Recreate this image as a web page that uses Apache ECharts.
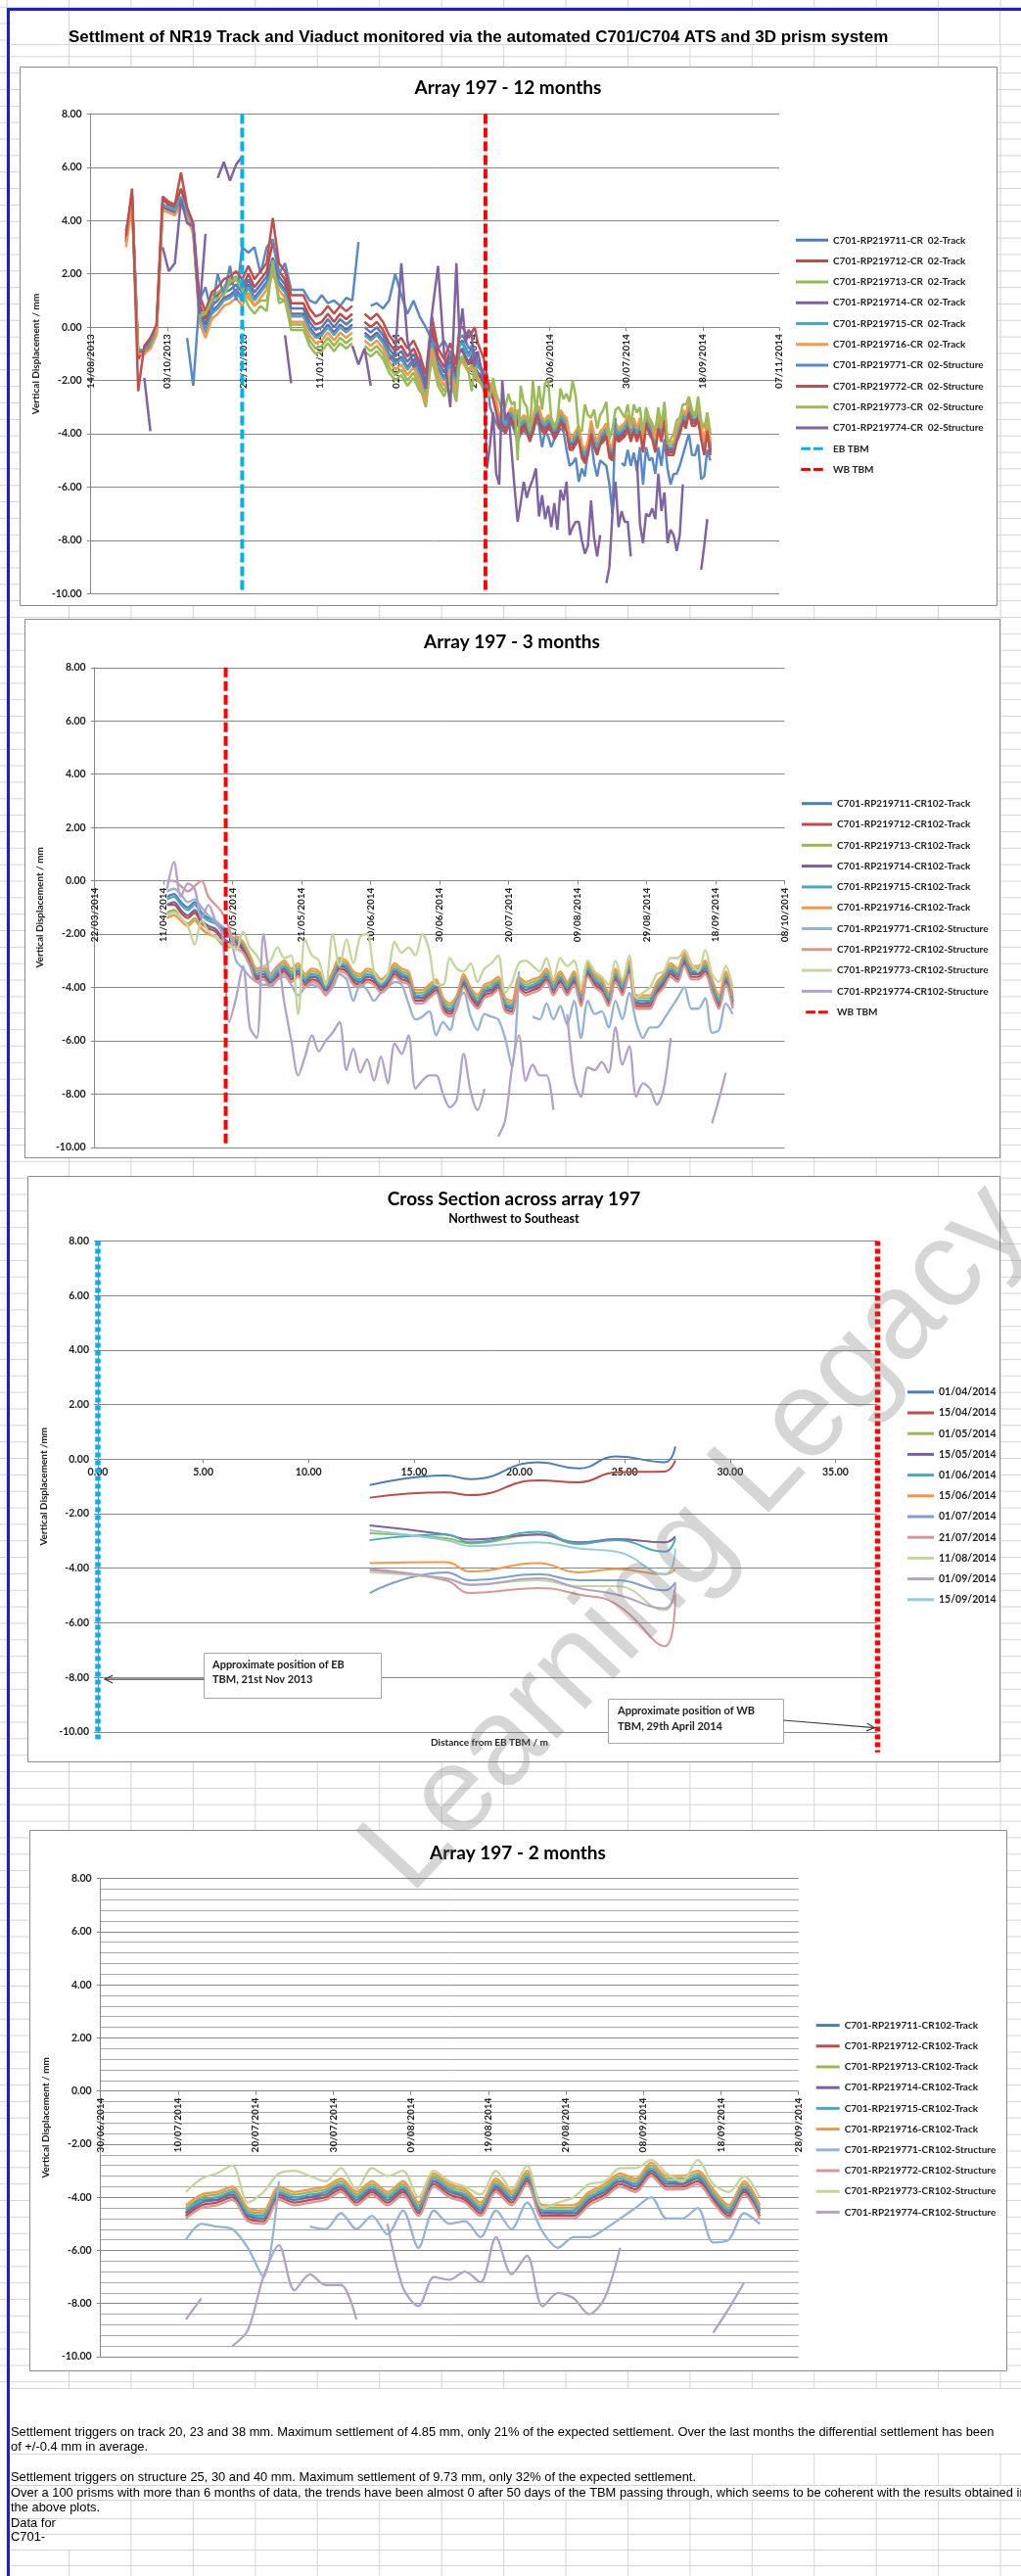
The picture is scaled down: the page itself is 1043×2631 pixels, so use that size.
<!DOCTYPE html>
<html>
<head>
<meta charset="utf-8">
<title>Settlement of NR19 Track and Viaduct</title>
<script src="https://cdn.jsdelivr.net/npm/echarts/dist/echarts.min.js"></script>
<style>
  html, body { margin:0; padding:0; background:#ffffff; width:1043px; height:2631px; overflow:hidden; }
  .abs { position:absolute; }
  #gridTop { left:0; top:0; width:1043px; height:2440px;
    background-image: linear-gradient(to right, #d4d4d4 1px, transparent 1px), linear-gradient(to bottom, #d4d4d4 1px, transparent 1px);
    background-size: 63.45px 100%, 100% 16.85px;
    background-position: 70px 0, 0 57.3px; }
  #gridBottom { left:0; top:2440px; width:1043px; height:191px;
    background-image: linear-gradient(to right, #d4d4d4 1px, transparent 1px);
    background-size: 63.45px 100%; background-position: 70px 0; }
  .white { background:#ffffff; }
  .hl { background:#d4d4d4; height:1px; }
  .vl { background:#d4d4d4; width:1px; }
  .blue { background:#1c1cd6; }
  #chart { left:0; top:0; width:1043px; height:2631px; }
</style>
</head>
<body>
<div id="gridTop" class="abs"></div>
<div id="gridBottom" class="abs"></div>
<div class="abs white" style="left:11px;top:11px;width:1032px;height:34px;"></div>
<div class="abs vl" style="left:70px;top:11px;height:34px;"></div>
<div class="abs vl" style="left:958px;top:11px;height:34px;"></div>
<div class="abs vl" style="left:1021px;top:11px;height:34px;"></div>
<div class="abs hl" style="left:11px;top:45px;width:1032px;"></div>
<div class="abs white" style="left:11px;top:2440px;width:1032px;height:66px;"></div>
<div class="abs white" style="left:11px;top:2507px;width:756px;height:31px;"></div>
<div class="abs white" style="left:11px;top:2539px;width:1032px;height:14px;"></div>
<div class="abs white" style="left:11px;top:2554px;width:121px;height:50px;"></div>
<div class="abs hl" style="left:11px;top:2439px;width:1032px;"></div>
<div class="abs hl" style="left:11px;top:2506px;width:1032px;"></div>
<div class="abs hl" style="left:11px;top:2538px;width:1032px;"></div>
<div class="abs hl" style="left:11px;top:2553px;width:1032px;"></div>
<div class="abs hl" style="left:11px;top:2572px;width:1032px;"></div>
<div class="abs hl" style="left:11px;top:2588px;width:1032px;"></div>
<div class="abs hl" style="left:11px;top:2604px;width:1032px;"></div>
<div class="abs hl" style="left:11px;top:2620px;width:1032px;"></div>
<div class="abs blue" style="left:7px;top:8px;width:1036px;height:3px;"></div>
<div class="abs blue" style="left:7px;top:8px;width:3px;height:2623px;"></div>
<div id="chart" class="abs"></div>
<script>
// ================= DATA =================
const earlyDates = ['06/09/2013','10/09/2013','14/09/2013','18/09/2013','22/09/2013','26/09/2013','30/09/2013','04/10/2013','08/10/2013','12/10/2013',
'16/10/2013','20/10/2013','24/10/2013','28/10/2013','01/11/2013','05/11/2013','09/11/2013','13/11/2013','17/11/2013','21/11/2013',
'25/11/2013','29/11/2013','03/12/2013','07/12/2013','11/12/2013','15/12/2013','19/12/2013','23/12/2013','27/12/2013','31/12/2013',
'04/01/2014','08/01/2014','12/01/2014','16/01/2014','20/01/2014','24/01/2014','28/01/2014','01/02/2014','05/02/2014','09/02/2014',
'13/02/2014','17/02/2014','21/02/2014','25/02/2014','01/03/2014','05/03/2014','09/03/2014','13/03/2014','17/03/2014','21/03/2014',
'25/03/2014','29/03/2014','02/04/2014','06/04/2014','10/04/2014'];

const e11 = [3.6,4.9,-0.9,-0.9,-0.6,-0.2,4.6,4.5,4.4,4.8, 4.3,3.7,0.7,0.1,0.8,1.0,1.3,1.4,1.6,1.3, 1.8,1.3,1.6,1.9,2.6,1.9,1.6,0.7,0.7,0.7, 0.2,-0.1,0.0,0.3,0.0,0.3,0.1,0.3,null,0.0, -0.2,0.0,-0.3,-0.8,-1.1,-0.9,-1.3,-1.0,-1.5,-2.3, -0.3,-1.3,-1.7,-1.1,-1.9];
const e12 = [3.3,5.0,-1.2,-0.8,-0.5,0.0,4.8,4.6,4.5,5.2, 4.4,3.8,0.9,0.3,1.0,1.2,1.5,1.6,1.8,1.5, 2.0,1.5,1.8,2.1,3.2,2.1,1.8,0.9,0.9,0.9, 0.4,0.1,0.2,0.5,0.2,0.5,0.3,0.5,null,0.2, 0.0,0.2,-0.1,-0.6,-0.9,-0.7,-1.1,-0.8,-1.3,-2.1, 0.0,-1.1,-1.5,-0.9,-1.7];
const e13 = [null,null,null,null,null,null,null,null,null,null, null,null,0.5,0.6,1.2,1.3,1.5,1.8,1.9,1.6, 1.1,0.8,1.0,1.0,2.2,1.1,1.0,0.1,0.1,0.1, -0.5,-0.8,-0.7,-0.4,-0.7,-0.4,-0.6,-0.4,null,-0.7, -0.9,-0.7,-1.0,-1.5,-1.8,-1.6,-2.0,-1.7,-2.2,-3.0, -1.0,-2.0,-2.4,-1.8,-2.6];
const e14 = [3.2,4.7,-1.0,-1.0,-0.7,-0.2,4.5,4.4,4.3,4.7, 4.2,3.6,0.5,-0.1,0.6,0.8,1.1,1.2,1.4,1.1, 1.6,1.1,1.4,1.7,2.3,1.7,1.4,0.5,0.5,0.5, 0.0,-0.3,-0.2,0.1,-0.2,0.1,-0.1,0.1,null,-0.2, -0.4,-0.2,-0.5,-1.0,-1.3,-1.1,-1.5,-1.2,-1.7,-2.5, -0.5,-1.5,-1.9,-1.3,-2.1];
const e15 = [3.5,4.8,-0.8,-0.9,-0.6,-0.1,4.6,4.5,4.4,4.9, 4.3,3.7,0.4,-0.2,0.5,0.7,1.0,1.1,1.3,1.0, 1.5,1.0,1.3,1.6,2.2,1.6,1.3,0.4,0.4,0.4, -0.1,-0.4,-0.3,0.0,-0.3,0.0,-0.2,0.0,null,-0.3, -0.5,-0.3,-0.6,-1.1,-1.4,-1.2,-1.6,-1.3,-1.8,-2.6, -0.6,-1.6,-2.0,-1.4,-2.2];
const e16 = [3.0,4.6,-1.0,-1.0,-0.8,-0.3,4.4,4.3,4.2,4.6, 4.1,3.5,0.2,-0.4,0.3,0.5,0.8,0.9,1.1,0.8, 1.3,0.8,1.1,1.4,2.0,1.4,1.1,0.2,0.2,0.2, -0.3,-0.6,-0.5,-0.2,-0.5,-0.2,-0.4,-0.2,null,-0.5, -0.7,-0.5,-0.8,-1.3,-1.6,-1.4,-1.8,-1.5,-2.0,-2.8, -0.8,-1.8,-2.2,-1.6,-2.4];
const e71 = [null,null,null,null,null,null,null,null,null,null, -0.4,-2.2,1.0,1.5,0.5,2.0,1.2,2.3,1.0,3.0, 2.8,3.0,2.0,3.0,3.3,2.0,2.4,1.4,1.4,1.4, 1.0,0.9,1.2,0.9,1.0,0.8,1.1,1.0,3.2,null, 0.8,0.9,0.7,1.0,2.0,1.2,0.5,1.0,0.4,0.0, -0.5,-0.8,-0.5,-1.0,-1.2];
const e72 = [3.4,5.2,-2.4,-0.7,-0.4,0.1,4.9,4.7,4.6,5.8, 4.5,3.9,1.2,0.6,1.3,1.5,1.8,1.9,2.1,1.8, 2.3,1.8,2.1,2.4,4.1,2.4,2.1,1.2,1.2,1.2, 0.7,0.4,0.5,0.8,0.5,0.8,0.6,0.8,null,0.5, 0.3,0.5,0.2,-0.3,-0.6,-0.4,-0.8,-0.5,-1.0,-1.8, 0.4,-0.8,-1.2,-0.6,-1.4];
const e73 = [null,null,null,null,null,null,null,null,null,null, null,null,0.4,0.5,1.0,1.1,1.2,1.7,1.8,1.4, 0.8,0.5,0.8,0.6,2.5,0.9,1.0,-0.1,-0.1,-0.1, -0.7,-1.0,-0.9,-0.6,-0.9,-0.6,-0.8,-0.6,null,-0.9, -1.1,-0.9,-1.2,-1.7,-2.0,-1.8,-2.2,-1.9,-2.4,-2.5, -1.2,-2.2,-2.6,-2.0,-2.8];
const e74 = [null,null,null,-1.9,-3.9,null,3.0,2.1,2.4,4.8, 3.9,3.8,0.5,3.5,null,5.6,6.2,5.5,6.1,6.4, null,null,null,null,null,null,-0.3,-2.1,null,null, null,null,null,null,null,null,null,-0.7,-1.4,-0.8, -2.2,null,null,-1.2,-1.0,2.4,-0.5,-1.5,-1.2,-2.3, 0.5,2.3,-1.0,-3.0,2.4];

const recentDates = ['12/04/2014','14/04/2014','16/04/2014','18/04/2014','20/04/2014','22/04/2014','24/04/2014','26/04/2014','28/04/2014','30/04/2014',
'02/05/2014','04/05/2014','06/05/2014','08/05/2014','10/05/2014','12/05/2014','14/05/2014','16/05/2014','18/05/2014','20/05/2014',
'22/05/2014','24/05/2014','26/05/2014','28/05/2014','30/05/2014','01/06/2014','03/06/2014','05/06/2014','07/06/2014','09/06/2014',
'11/06/2014','13/06/2014','15/06/2014','17/06/2014','19/06/2014','21/06/2014','23/06/2014','25/06/2014','27/06/2014','29/06/2014',
'01/07/2014','03/07/2014','05/07/2014','07/07/2014','09/07/2014','11/07/2014','13/07/2014','15/07/2014','17/07/2014','19/07/2014',
'21/07/2014','23/07/2014','25/07/2014','27/07/2014','29/07/2014','31/07/2014','02/08/2014','04/08/2014','06/08/2014','08/08/2014',
'10/08/2014','12/08/2014','14/08/2014','16/08/2014','18/08/2014','20/08/2014','22/08/2014','24/08/2014','26/08/2014','28/08/2014',
'30/08/2014','01/09/2014','03/09/2014','05/09/2014','07/09/2014','09/09/2014','11/09/2014','13/09/2014','15/09/2014','17/09/2014',
'19/09/2014','21/09/2014','23/09/2014'];

const r11 = [-0.6,-0.5,-0.8,-1.0,-0.8,-1.2,-1.4,-1.5,-1.8,-2.0, -2.3,-2.5,-3.0,-3.6,-3.5,-3.8,-3.5,-3.3,-3.6,-3.4, -3.8,-3.6,-3.7,-4.1,-3.7,-3.2,-3.3,-3.7,-3.8,-3.6, -3.7,-4.0,-3.8,-3.4,-3.6,-3.7,-4.4,-4.4,-4.2,-4.0, -4.7,-4.9,-4.6,-3.8,-4.3,-4.6,-4.2,-4.1,-3.9,-4.7, -4.8,-3.9,-4.1,-4.0,-3.9,-3.6,-4.1,-3.7,-4.1,-3.7, -4.5,-3.4,-3.8,-4.0,-4.5,-3.6,-4.1,-3.3,-4.6,-4.6, -4.6,-4.1,-3.8,-3.4,-3.6,-3.0,-3.5,-3.5,-3.3,-4.0, -4.6,-3.7,-4.6];
const r12 = [-0.9,-0.9,-1.2,-1.4,-1.2,-1.6,-1.8,-1.9,-2.2,-2.4, -2.4,-2.6,-3.1,-3.7,-3.6,-3.9,-3.6,-3.4,-3.7,-3.5, -3.9,-3.7,-3.8,-4.2,-3.8,-3.3,-3.4,-3.8,-3.9,-3.7, -3.8,-4.1,-3.9,-3.5,-3.7,-3.8,-4.5,-4.5,-4.3,-4.1, -4.8,-5.0,-4.7,-3.9,-4.4,-4.7,-4.3,-4.2,-4.0,-4.8, -4.9,-4.0,-4.2,-4.1,-4.0,-3.7,-4.2,-3.8,-4.2,-3.8, -4.6,-3.5,-3.9,-4.1,-4.6,-3.7,-4.2,-3.4,-4.7,-4.7, -4.7,-4.2,-3.9,-3.5,-3.7,-3.1,-3.6,-3.6,-3.4,-4.1, -4.7,-3.8,-4.7];
const r13 = [-1.2,-1.1,-1.4,-1.6,-1.4,-1.8,-2.0,-2.1,-2.4,-2.5, -2.1,-2.3,-2.8,-3.4,-3.3,-3.6,-3.3,-3.1,-3.4,-3.2, -3.6,-3.4,-3.5,-3.9,-3.5,-3.0,-3.1,-3.5,-3.6,-3.4, -3.5,-3.8,-3.6,-3.2,-3.4,-3.5,-4.2,-4.2,-4.0,-3.8, -4.5,-4.7,-4.4,-3.6,-4.1,-4.4,-4.0,-3.9,-3.7,-4.5, -4.6,-3.7,-3.9,-3.8,-3.7,-3.4,-3.9,-3.5,-3.9,-3.5, -4.3,-3.2,-3.6,-3.8,-4.3,-3.4,-3.9,-3.1,-4.4,-4.4, -4.4,-3.9,-3.6,-3.2,-3.4,-2.8,-3.3,-3.3,-3.1,-3.8, -4.4,-3.5,-4.4];
const r14 = [-0.9,-0.8,-1.1,-1.3,-1.1,-1.5,-1.7,-1.8,-2.1,-2.3, -2.3,-2.5,-2.9,-3.6,-3.5,-3.7,-3.5,-3.3,-3.5,-3.4, -3.7,-3.6,-3.6,-4.1,-3.7,-3.2,-3.2,-3.7,-3.7,-3.6, -3.6,-4.0,-3.7,-3.4,-3.5,-3.7,-4.3,-4.4,-4.1,-4.0, -4.6,-4.9,-4.5,-3.8,-4.2,-4.6,-4.1,-4.1,-3.8,-4.7, -4.7,-3.9,-4.0,-4.0,-3.8,-3.6,-4.0,-3.7,-4.0,-3.7, -4.4,-3.4,-3.7,-4.0,-4.4,-3.6,-4.0,-3.3,-4.5,-4.6, -4.5,-4.1,-3.7,-3.4,-3.5,-3.0,-3.4,-3.5,-3.2,-4.0, -4.5,-3.7,-4.5];
const r15 = [-0.7,-0.6,-0.9,-1.1,-0.9,-1.3,-1.5,-1.6,-1.9,-2.1, -2.2,-2.4,-2.9,-3.5,-3.4,-3.7,-3.4,-3.2,-3.5,-3.3, -3.7,-3.5,-3.6,-4.0,-3.6,-3.1,-3.2,-3.6,-3.7,-3.5, -3.6,-3.9,-3.7,-3.3,-3.5,-3.6,-4.3,-4.3,-4.1,-3.9, -4.6,-4.8,-4.5,-3.7,-4.2,-4.5,-4.1,-4.0,-3.8,-4.6, -4.7,-3.8,-4.0,-3.9,-3.8,-3.5,-4.0,-3.6,-4.0,-3.6, -4.4,-3.3,-3.7,-3.9,-4.4,-3.5,-4.0,-3.2,-4.5,-4.5, -4.5,-4.0,-3.7,-3.3,-3.5,-2.9,-3.4,-3.4,-3.2,-3.9, -4.5,-3.6,-4.5];
const r16 = [-1.4,-1.3,-1.5,-1.7,-1.5,-1.8,-2.0,-2.1,-2.3,-2.4, -2.1,-2.3,-2.8,-3.3,-3.2,-3.5,-3.2,-3.0,-3.3,-3.1, -3.5,-3.3,-3.4,-3.8,-3.4,-2.9,-3.0,-3.4,-3.5,-3.3, -3.4,-3.7,-3.5,-3.1,-3.3,-3.4,-4.1,-4.1,-3.9,-3.7, -4.4,-4.6,-4.3,-3.5,-4.0,-4.3,-3.9,-3.8,-3.6,-4.4, -4.5,-3.6,-3.8,-3.7,-3.6,-3.3,-3.8,-3.4,-3.8,-3.4, -4.2,-3.1,-3.5,-3.7,-4.2,-3.3,-3.8,-3.0,-4.3,-4.3, -4.3,-3.8,-3.5,-3.1,-3.3,-2.7,-3.2,-3.2,-3.0,-3.7, -4.3,-3.4,-4.3];
const r71 = [-0.4,-0.3,-0.5,-0.8,-0.7,-1.0,-1.3,-1.5,-1.7,-1.9, -3.0,-3.3,-3.6,-3.8,-3.9,-3.9,-3.7,-3.6,-3.9,-4.3, -4.0,-3.9,-4.0,-4.2,-4.0,-3.5,-3.7,-4.5,-3.9,-4.1, -4.5,-4.2,-4.0,-3.8,-3.9,-4.6,-5.2,-5.1,-4.9,-5.8, -5.3,-5.6,-4.6,-4.2,-5.1,-5.6,-5.0,-5.1,-5.2,-5.9, -7.0,-3.4,null,-5.1,-5.2,-4.6,-5.2,-4.7,-5.4,-4.5, -5.9,-4.5,-5.0,-4.9,-5.5,-4.5,-5.2,-4.2,-5.3,-5.9, -5.5,-5.5,-5.2,-4.8,-4.4,-4.0,-4.8,-4.8,-4.4,-5.7, -5.6,-4.6,-5.0];
const r72 = [0.0,0.0,-0.2,-0.4,-0.2,0.0,-0.6,-0.9,-1.2,-1.8, -2.5,-2.7,-3.2,-3.8,-3.7,-4.0,-3.7,-3.5,-3.8,-3.6, -4.0,-3.8,-3.9,-4.3,-3.9,-3.4,-3.5,-3.9,-4.0,-3.8, -3.9,-4.2,-4.0,-3.6,-3.8,-3.9,-4.6,-4.6,-4.4,-4.2, -4.9,-5.1,-4.8,-4.0,-4.5,-4.8,-4.4,-4.3,-4.1,-4.9, -5.0,-4.1,-4.3,-4.2,-4.1,-3.8,-4.3,-3.9,-4.3,-3.9, -4.7,-3.6,-4.0,-4.2,-4.7,-3.8,-4.3,-3.5,-4.8,-4.8, -4.8,-4.3,-4.0,-3.6,-3.8,-3.2,-3.7,-3.7,-3.5,-4.2, -4.8,-3.9,-4.8];
const r73 = [-1.3,-1.2,-1.4,-1.7,-2.4,-1.5,-1.9,-2.1,-2.3,-2.4, -2.6,-1.9,-2.5,-2.8,-3.2,-3.0,-2.5,-2.9,-2.8,-5.0, -2.2,-2.8,-3.0,-3.9,-2.0,-3.2,-2.2,-3.1,-2.1,-2.0, -3.4,-3.8,-3.5,-2.3,-2.7,-2.5,-2.8,-2.0,-2.6,-3.9, -3.9,-2.9,-3.3,-3.4,-3.1,-3.8,-3.3,-3.1,-2.8,-4.2, -3.8,-3.1,-3.0,-3.2,-3.4,-2.9,-3.7,-2.9,-3.2,-3.0, -4.0,-3.0,-3.4,-3.6,-3.9,-3.0,-3.7,-2.8,-4.4,-4.2, -4.0,-3.5,-3.4,-2.9,-2.9,-2.6,-3.1,-3.4,-2.6,-3.5, -3.8,-3.2,-4.0];
const r74 = [-0.3,0.7,-0.6,-0.1,-0.3,-1.4,-0.9,-1.5,-2.0,-5.3, -4.4,-3.2,-5.5,-5.9,-2.0,-3.5,-3.2,-4.6,-6.0,-7.3, -6.6,-5.8,-6.4,-6.0,-5.7,-5.3,-7.1,-6.3,-7.2,-6.7, -7.5,-6.6,-7.6,-6.1,-6.5,-5.8,-7.8,-7.5,-7.3,-7.3, -8.0,-8.5,-8.2,-6.5,-7.9,-8.6,-7.8,null,-9.6,-9.0, -7.0,-5.8,-7.5,-6.9,-7.3,-7.3,-8.6,null,-5.0,-7.4, -8.1,-7.0,-7.1,-6.8,-7.2,-5.5,-6.9,-6.2,-8.1,-7.6, -7.8,-8.4,-7.8,-5.9,null,null,null,null,null,-9.1, -8.2,-7.2,null];

const prismIds = ['C701-RP219711','C701-RP219712','C701-RP219713','C701-RP219714','C701-RP219715','C701-RP219716','C701-RP219771','C701-RP219772','C701-RP219773','C701-RP219774'];
const prismKinds = ['Track','Track','Track','Track','Track','Track','Structure','Structure','Structure','Structure'];

const EB_TBM_DATE = '21/11/2013';
const WB_TBM_DATE = '29/04/2014';
const TBM_TOP = 8, TBM_BOTTOM = -10;

const crossX = [12.9, 16.5, 17.7, 20.9, 22.8, 24.6, 26.9, 27.4];
const crossDates = ['01/04/2014','15/04/2014','01/05/2014','15/05/2014','01/06/2014','15/06/2014','01/07/2014','21/07/2014','11/08/2014','01/09/2014','15/09/2014'];
const cs0104 = [-0.95,-0.60,-0.73,-0.11,-0.34,0.10,-0.11,0.47];
const cs1504 = [-1.41,-1.22,-1.32,-0.78,-0.85,-0.48,-0.45,-0.04];
const cs0105 = [-2.72,-2.90,-3.09,-2.76,-3.12,-2.93,-3.05,-2.86];
const cs1505 = [-2.43,-2.76,-2.95,-2.76,-3.05,-2.93,-3.05,-2.83];
const cs0106 = [-2.97,-2.76,-3.05,-2.66,-3.09,-2.97,-3.39,-2.90];
const cs1506 = [-3.81,-3.78,-4.12,-3.81,-4.15,-4.03,-4.22,-4.03];
const cs0107 = [-4.91,-4.15,-4.44,-4.22,-4.44,-4.44,-4.81,-4.51];
const cs2107 = [-4.03,-4.44,-4.91,-4.73,-4.96,-5.32,-6.86,-4.96];
const cs1108 = [-4.15,-4.37,-4.59,-4.44,-4.66,-4.66,-5.54,-4.66];
const cs0109 = [-4.07,-4.37,-4.62,-4.37,-4.73,-4.96,-5.47,-4.51];
const cs1509 = [-2.61,-2.97,-3.19,-3.05,-3.27,-3.39,-4.22,-3.27];
const EB_POS = 0, WB_POS = 37;
const EB_LINE_BOTTOM = -10.35, WB_LINE_BOTTOM = -10.75;
const EB_ARROW_Y = -8, WB_ARROW_Y = -9.85;

const mainTitle = 'Settlment of NR19 Track and Viaduct monitored via the automated C701/C704 ATS and 3D prism system';
const notes = [
 'Settlement triggers on track 20, 23 and 38 mm. Maximum settlement of 4.85 mm, only 21% of the expected settlement. Over the last months the differential settlement has been',
 'of +/-0.4 mm in average.',
 'Settlement triggers on structure 25, 30 and 40 mm. Maximum settlement of 9.73 mm, only 32% of the expected settlement.',
 'Over a 100 prisms with more than 6 months of data, the trends have been almost 0 after 50 days of the TBM passing through, which seems to be coherent with the results obtained in',
 'the above plots.',
 'Data for',
 'C701-'
];

// ================= HELPERS =================
const DAY = 86400000;
function parseDMY(s){ const p = s.split('/').map(Number); return Date.UTC(p[2], p[1]-1, p[0]); }
function daysFrom(base, s){ return Math.round((parseDMY(s) - parseDMY(base)) / DAY); }
function pad(n){ return (n < 10 ? '0' : '') + n; }
function fmtDay(base){ return function(v){ const t = new Date(parseDMY(base) + v*DAY); return pad(t.getUTCDate()) + '/' + pad(t.getUTCMonth()+1) + '/' + t.getUTCFullYear(); }; }
function pairs(dates, vals, base){ return dates.map(function(s, i){ return [daysFrom(base, s), vals[i] == null ? '-' : vals[i]]; }); }

const FONT = 'Lato, "Open Sans", "DejaVu Sans", sans-serif';
const TXT = '#222222';
const GRAY = '#878787';

const P1_BASE = '14/08/2013', P2_BASE = '22/03/2014', P4_BASE = '30/06/2014';
const P4_START = '11/07/2014';

const early = [e11,e12,e13,e14,e15,e16,e71,e72,e73,e74];
const recent = [r11,r12,r13,r14,r15,r16,r71,r72,r73,r74];
const p1Colors = ['#4A7EBB','#BE4B48','#98B954','#7D60A0','#46AAC5','#F79646','#5A8AC6','#C0504D','#9BBB59','#8064A2'];
const p2Colors = ['#4A7EBB','#BE4B48','#98B954','#7D60A0','#46AAC5','#F79646','#95B3D7','#D99694','#C3D69B','#B3A2C7'];
const p3Colors = ['#4A7EBB','#BE4B48','#98B954','#7D60A0','#46AAC5','#F79646','#7F9FD0','#D99694','#C3D69B','#B3A2C7','#93CDDD'];
const crossSeries = [cs0104,cs1504,cs0105,cs1505,cs0106,cs1506,cs0107,cs2107,cs1108,cs0109,cs1509];

const p1Names = prismIds.map(function(id, i){ return id + '-CR  02-' + prismKinds[i]; });
const p2Names = prismIds.map(function(id, i){ return id + '-CR102-' + prismKinds[i]; });

function ln(name, color, width, data, gi, smooth, lineType){
  const ls = {color: color, width: width};
  if (lineType) { ls.type = lineType; ls.cap = 'butt'; }
  return {type:'line', name: name, xAxisIndex: gi, yAxisIndex: gi, data: data, symbol:'none', showSymbol:false,
    smooth: smooth || false, connectNulls:false, lineStyle: ls, itemStyle:{color: color},
    emphasis:{disabled:true}, animation:false, silent:true};
}

const series = [];
for (let i = 0; i < 10; i++) {
  series.push(ln(p1Names[i], p1Colors[i], 2.5, pairs(earlyDates, early[i], P1_BASE).concat(pairs(recentDates, recent[i], P1_BASE)), 0, false));
}
series.push(ln('EB TBM', '#00B0F0', 4, [[daysFrom(P1_BASE, EB_TBM_DATE), TBM_TOP], [daysFrom(P1_BASE, EB_TBM_DATE), TBM_BOTTOM]], 0, false, [10, 4]));
series.push(ln('WB TBM', '#FF0000', 4, [[daysFrom(P1_BASE, WB_TBM_DATE), TBM_TOP], [daysFrom(P1_BASE, WB_TBM_DATE), TBM_BOTTOM]], 0, false, [10, 4]));
for (let i = 0; i < 10; i++) {
  series.push(ln(p2Names[i], p2Colors[i], 2.3, pairs(recentDates, recent[i], P2_BASE), 1, 0.3));
}
series.push(ln('WB TBM', '#FF0000', 4, [[daysFrom(P2_BASE, WB_TBM_DATE), TBM_TOP], [daysFrom(P2_BASE, WB_TBM_DATE), TBM_BOTTOM]], 1, false, [10, 4]));
for (let i = 0; i < crossDates.length; i++) {
  series.push(ln(crossDates[i], p3Colors[i], 2, crossX.map(function(x, j){ return [x, crossSeries[i][j]]; }), 2, 0.5));
}
const ebLine = ln('EB TBM position', '#00B0F0', 5.5, [[EB_POS, TBM_TOP], [EB_POS, EB_LINE_BOTTOM]], 2, false, [5, 3]);
ebLine.clip = false;
const wbLine = ln('WB TBM position', '#FF0000', 5.5, [[WB_POS, TBM_TOP], [WB_POS, WB_LINE_BOTTOM]], 2, false, [5, 3]);
wbLine.clip = false;
series.push(ebLine, wbLine);
const s4 = recentDates.indexOf(P4_START);
for (let i = 0; i < 10; i++) {
  series.push(ln(p2Names[i], p2Colors[i], 2.3, pairs(recentDates.slice(s4), recent[i].slice(s4), P4_BASE), 3, 0.3));
}

// ================= AXES / LAYOUT =================
const Y_MIN = -10, Y_MAX = 8;
const grids = [
  {left: 92.7, top: 116.4, width: 703.3, height: 490},
  {left: 96.7, top: 681.8, width: 704.7, height: 490},
  {left: 100, top: 1267.6, width: 796.5, height: 501.2},
  {left: 102.7, top: 1918.6, width: 713, height: 488.4}
];
function zeroOffset(gi){ return -grids[gi].height * (0 - Y_MIN) / (Y_MAX - Y_MIN); }

function yAxisCfg(gi, name, gap, minor){
  const c = {gridIndex: gi, type:'value', min:Y_MIN, max:Y_MAX, interval:2,
    name: name, nameLocation:'middle', nameGap: gap, nameRotate: 90,
    nameTextStyle:{fontFamily: FONT, fontSize: 10, fontWeight:'bold', color: TXT},
    axisLine:{show:true, onZero:false, lineStyle:{color: GRAY, width:1}},
    axisTick:{show:true, length:4, lineStyle:{color: GRAY}},
    axisLabel:{formatter: function(v){ return v.toFixed(2); }, fontFamily: FONT, fontSize: 10.5, fontWeight:'bold', color: TXT, margin: 9},
    splitLine:{show:true, lineStyle:{color: GRAY, width:1}}};
  if (minor) {
    c.minorTick = {show:false, splitNumber:5};
    c.minorSplitLine = {show:true, lineStyle:{color:'#a9a9a9', width:1}};
  }
  return c;
}
function dateAxisCfg(gi, max, interval, base){
  return {gridIndex: gi, type:'value', min:0, max: max, interval: interval, position:'bottom', offset: zeroOffset(gi),
    axisLine:{show:true, onZero:false, lineStyle:{color: GRAY}},
    axisTick:{show:true, length:4, lineStyle:{color: GRAY}},
    axisLabel:{rotate: 90, formatter: fmtDay(base), fontFamily: FONT, fontSize: 10, fontWeight:'bold', color: TXT, margin: 7, showMinLabel:true, showMaxLabel:true},
    splitLine:{show:false}};
}
function legendCfg(names, left, top, spacing, iw, fs){
  return {data: names, orient:'vertical', left: left, top: top, padding: 0, itemWidth: iw, itemHeight: 3,
    icon: 'rect', itemGap: spacing - 12, selectedMode: false,
    textStyle:{fontFamily: FONT, fontSize: fs, fontWeight:'bold', color: TXT, lineHeight: 12}};
}
const DASH_ICON = 'path://M0,0H13V4H0Z M17,0H30V4H17Z';
function tbmLegendItem(name){ return {name: name, icon: DASH_ICON}; }

const option = {
  backgroundColor: 'transparent',
  animation: false,
  grid: grids,
  xAxis: [
    dateAxisCfg(0, 450, 50, P1_BASE),
    dateAxisCfg(1, 200, 20, P2_BASE),
    {gridIndex: 2, type:'value', min: 0, max: 37, interval: 5, position:'bottom', offset: zeroOffset(2),
      axisLine:{show:true, onZero:false, lineStyle:{color: GRAY}},
      axisTick:{show:true, length:4, lineStyle:{color: GRAY}},
      axisLabel:{formatter: function(v){ return v.toFixed(2); }, fontFamily: FONT, fontSize: 10.5, fontWeight:'bold', color: TXT, margin: 8, showMaxLabel:false},
      splitLine:{show:false}},
    dateAxisCfg(3, 90, 10, P4_BASE)
  ],
  yAxis: [
    yAxisCfg(0, 'Vertical Displacement / mm', 38, false),
    yAxisCfg(1, 'Vertical Displacement / mm', 38, false),
    yAxisCfg(2, 'Vertical Displacement /mm', 36, false),
    yAxisCfg(3, 'Vertical Displacement / mm', 37, true)
  ],
  legend: [
    legendCfg(p1Names.concat([tbmLegendItem('EB TBM'), tbmLegendItem('WB TBM')]), 813, 239.3, 21.3, 33, 10),
    legendCfg(p2Names.concat([tbmLegendItem('WB TBM')]), 819, 814.7, 21.3, 31, 10),
    legendCfg(crossDates, 927, 1415.8, 21.2, 27, 10.5),
    legendCfg(p2Names, 833.7, 2062.6, 21.2, 24, 10)
  ],
  series: series
};

const chart = echarts.init(document.getElementById('chart'), null, {renderer:'canvas', width:1043, height:2631});
chart.setOption(option);

// ================= DECORATION / ANNOTATIONS =================
function txt(text, x, y, font, fill, align){
  return {type:'text', x: x, y: y, z: 50, silent: true,
    style:{text: text, font: font, fill: fill || '#000', align: align || 'left', verticalAlign:'middle',
      textAlign: align || 'left', textVerticalAlign: 'middle'}};
}
function frame(x, y, w, h){
  return {type:'rect', z:-10, silent:true, shape:{x:x, y:y, width:w, height:h}, style:{fill:'#ffffff', stroke:'#8c8c8c', lineWidth:1}};
}
function arrow(x1, y1, x2, y2){
  const a = Math.atan2(y2 - y1, x2 - x1), L = 9, w = 0.45;
  return [
    {type:'line', z:40, silent:true, shape:{x1:x1, y1:y1, x2:x2, y2:y2}, style:{stroke:'#404040', lineWidth:1.2}},
    {type:'polyline', z:40, silent:true, shape:{points:[[x2 - L*Math.cos(a - w), y2 - L*Math.sin(a - w)], [x2, y2], [x2 - L*Math.cos(a + w), y2 - L*Math.sin(a + w)]]}, style:{stroke:'#404040', lineWidth:1.2, fill:null}}
  ];
}

const ebTip = chart.convertToPixel({gridIndex: 2}, [EB_POS, EB_ARROW_Y]);
const wbTip = chart.convertToPixel({gridIndex: 2}, [WB_POS, WB_ARROW_Y]);

const TITLE_FONT = 'bold 19px ' + FONT;
let els = [
  frame(20.5, 68.5, 998, 550),
  frame(25.5, 632.5, 996, 550),
  frame(28.5, 1201.5, 993, 598),
  frame(30.5, 1869.5, 998, 552),
  txt(mainTitle, 70, 38, 'bold 17px "Liberation Sans", Arial, sans-serif', '#000'),
  txt('Array 197 - 12 months', 519, 90, TITLE_FONT, '#000', 'center'),
  txt('Array 197 - 3 months', 523, 656, TITLE_FONT, '#000', 'center'),
  txt('Cross Section across array 197', 525, 1225, TITLE_FONT, '#000', 'center'),
  txt('Northwest to Southeast', 525, 1245, 'bold 12.5px ' + FONT, '#000', 'center'),
  txt('Array 197 - 2 months', 529, 1893, TITLE_FONT, '#000', 'center'),
  txt('Distance from EB TBM / m', 500, 1780, 'bold 10px ' + FONT, TXT, 'center'),
  {type:'rect', z:30, silent:true, shape:{x:208.5, y:1688.5, width:181, height:46}, style:{fill:'#ffffff', stroke:'#a6a6a6', lineWidth:1}},
  txt('Approximate position of EB', 217, 1700, 'bold 11px ' + FONT, TXT),
  txt('TBM, 21st Nov 2013', 217, 1715.5, 'bold 11px ' + FONT, TXT),
  {type:'rect', z:30, silent:true, shape:{x:621.5, y:1735.5, width:179, height:45}, style:{fill:'#ffffff', stroke:'#a6a6a6', lineWidth:1}},
  txt('Approximate position of WB', 631, 1747.5, 'bold 11px ' + FONT, TXT),
  txt('TBM, 29th April 2014', 631, 1763.5, 'bold 11px ' + FONT, TXT)
];
els = els.concat(arrow(208.5, ebTip[1] + 2, ebTip[0] + 7, ebTip[1] + 2));
els = els.concat(arrow(800.5, 1757, wbTip[0] - 3, wbTip[1]));
const noteY = [2484, 2499, 2530, 2546, 2561, 2577, 2591];
notes.forEach(function(t, i){ els.push(txt(t, 11, noteY[i], '12.9px "Liberation Sans", Arial, sans-serif', '#000')); });
els.push({type:'text', x: 712, y: 1572, rotation: 0.82, z: 100, silent: true,
  style:{text:'Learning Legacy', font:'126px "Liberation Sans", Arial, sans-serif', fill:'rgba(120,120,120,0.30)',
    align:'center', verticalAlign:'middle', textAlign:'center', textVerticalAlign:'middle'}});

chart.setOption({graphic: {elements: els}});
</script>
</body>
</html>
